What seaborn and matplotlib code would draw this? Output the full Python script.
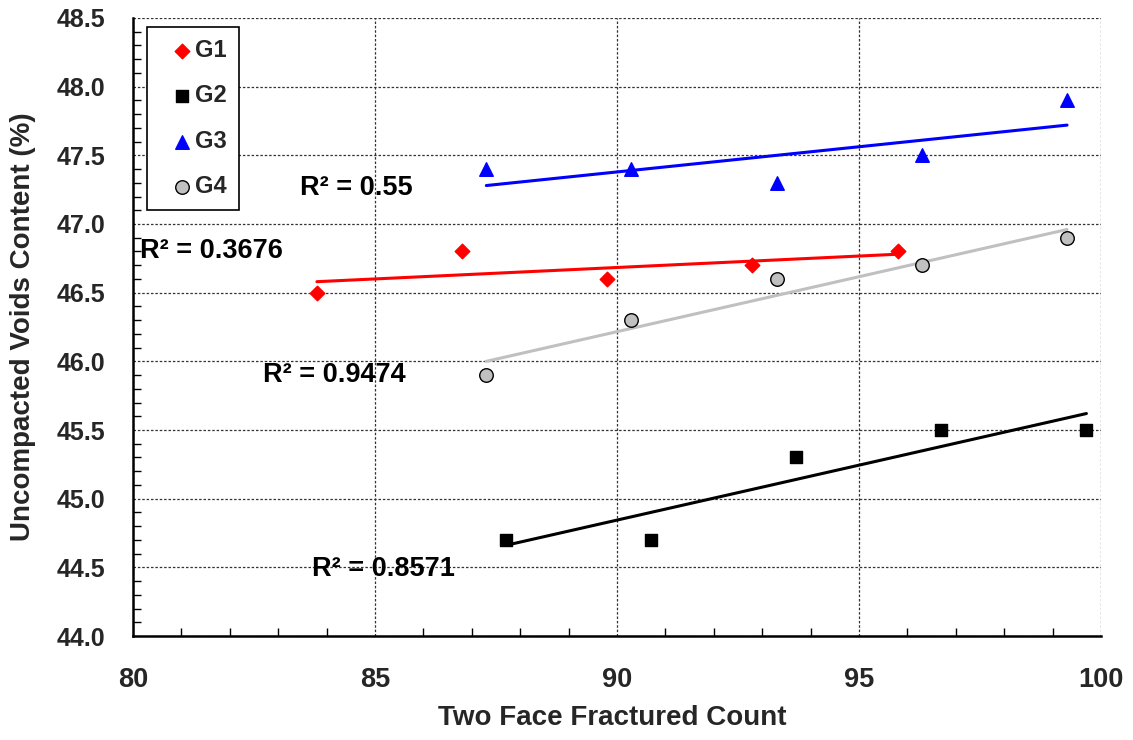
import matplotlib
matplotlib.use("Agg")
import matplotlib.pyplot as plt
import seaborn as sns
import pandas as pd
from matplotlib.ticker import MultipleLocator

sns.set_theme(style="white")
plt.rcParams['font.family'] = ['Liberation Sans', 'DejaVu Sans']
plt.rcParams['font.weight'] = 'bold'

groups = ["G1", "G2", "G3", "G4"]
g1_x = [83.8, 86.8, 89.8, 92.8, 95.8]
g1_y = [46.5, 46.8, 46.6, 46.7, 46.8]
g2_x = [87.7, 90.7, 93.7, 96.7, 99.7]
g2_y = [44.7, 44.7, 45.3, 45.5, 45.5]
g3_x = [87.3, 90.3, 93.3, 96.3, 99.3]
g3_y = [47.4, 47.4, 47.3, 47.5, 47.9]
g4_x = [87.3, 90.3, 93.3, 96.3, 99.3]
g4_y = [45.9, 46.3, 46.6, 46.7, 46.9]
r2_labels = ["R² = 0.3676", "R² = 0.8571", "R² = 0.55", "R² = 0.9474"]
r2_pos = [(80.15, 46.75), (83.69, 44.44), (83.46, 47.21), (82.69, 45.85)]

xs = [g1_x, g2_x, g3_x, g4_x]
ys = [g1_y, g2_y, g3_y, g4_y]
df = pd.concat([pd.DataFrame({"x": x, "y": y, "group": g}) for g, x, y in zip(groups, xs, ys)],
               ignore_index=True)

styles = {
    "G1": dict(marker="D", face="#FF0000", edge="#FF0000", line="#FF0000", s=55),
    "G2": dict(marker="s", face="#000000", edge="#000000", line="#000000", s=85),
    "G3": dict(marker="^", face="#0000FF", edge="#0000FF", line="#0000FF", s=95),
    "G4": dict(marker="o", face="#C0C0C0", edge="#000000", line="#C0C0C0", s=95),
}

fig = plt.figure(figsize=(11.33, 7.40), dpi=100)
ax = fig.add_axes([0.1174, 0.1405, 0.9717 - 0.1174, 0.9757 - 0.1405])

for g in groups:
    st = styles[g]
    sub = df[df["group"] == g]
    sns.regplot(data=sub, x="x", y="y", ax=ax, ci=None, marker=st["marker"],
                label=g, truncate=True,
                scatter_kws=dict(s=st["s"], facecolor=st["face"], edgecolor=st["edge"],
                                 linewidths=1.0, alpha=1, zorder=4),
                line_kws=dict(color=st["line"], lw=2.2, zorder=3))

for lab, (tx, ty) in zip(r2_labels, r2_pos):
    ax.text(tx, ty, lab, fontsize=19.5, fontweight="bold", color="black",
            ha="left", va="baseline", zorder=5)

ax.set_xlim(80, 100)
ax.set_ylim(44.0, 48.5)
ax.xaxis.set_major_locator(MultipleLocator(5))
ax.xaxis.set_minor_locator(MultipleLocator(1))
ax.yaxis.set_major_locator(MultipleLocator(0.5))
ax.yaxis.set_minor_locator(MultipleLocator(0.1))
ax.set_yticks([44.0 + 0.5 * i for i in range(10)])
ax.set_yticklabels([f"{44.0 + 0.5 * i:.1f}" for i in range(10)])

ax.grid(True, which="major", color="#333333", linestyle=(0, (2, 1.5)), linewidth=0.9)
ax.set_axisbelow(True)
for side in ["top", "right"]:
    ax.spines[side].set_visible(False)
for side in ["left", "bottom"]:
    ax.spines[side].set_color("black")
    ax.spines[side].set_linewidth(1.8)

ax.tick_params(axis="both", which="major", direction="inout", length=12, width=1.0, color="black")
ax.tick_params(axis="both", which="minor", direction="in", length=6, width=1.0, color="black",
               bottom=True, left=True)
ax.tick_params(axis="x", which="major", labelsize=19.5, pad=16)
ax.tick_params(axis="y", which="major", labelsize=18, pad=14)
for lbl in ax.get_xticklabels() + ax.get_yticklabels():
    lbl.set_fontweight("bold")

ax.set_xlabel("Two Face Fractured Count", fontsize=20, fontweight="bold")
ax.set_ylabel("Uncompacted Voids Content (%)", fontsize=20, fontweight="bold")
ax.xaxis.set_label_coords(0.495, -0.112)
ax.xaxis.label.set_va("top")
ax.yaxis.set_label_coords(-0.100, 0.5)

leg = ax.legend(loc="upper left", bbox_to_anchor=(0.0145, 0.985), frameon=True, fancybox=False,
                edgecolor="black", framealpha=1, prop=dict(size=17, weight="bold"),
                labelspacing=0.95, handletextpad=-0.45, borderpad=0.5, handlelength=2.0,
                borderaxespad=0)
leg.get_frame().set_linewidth(1.2)

fig.savefig("out.png", dpi=100)
